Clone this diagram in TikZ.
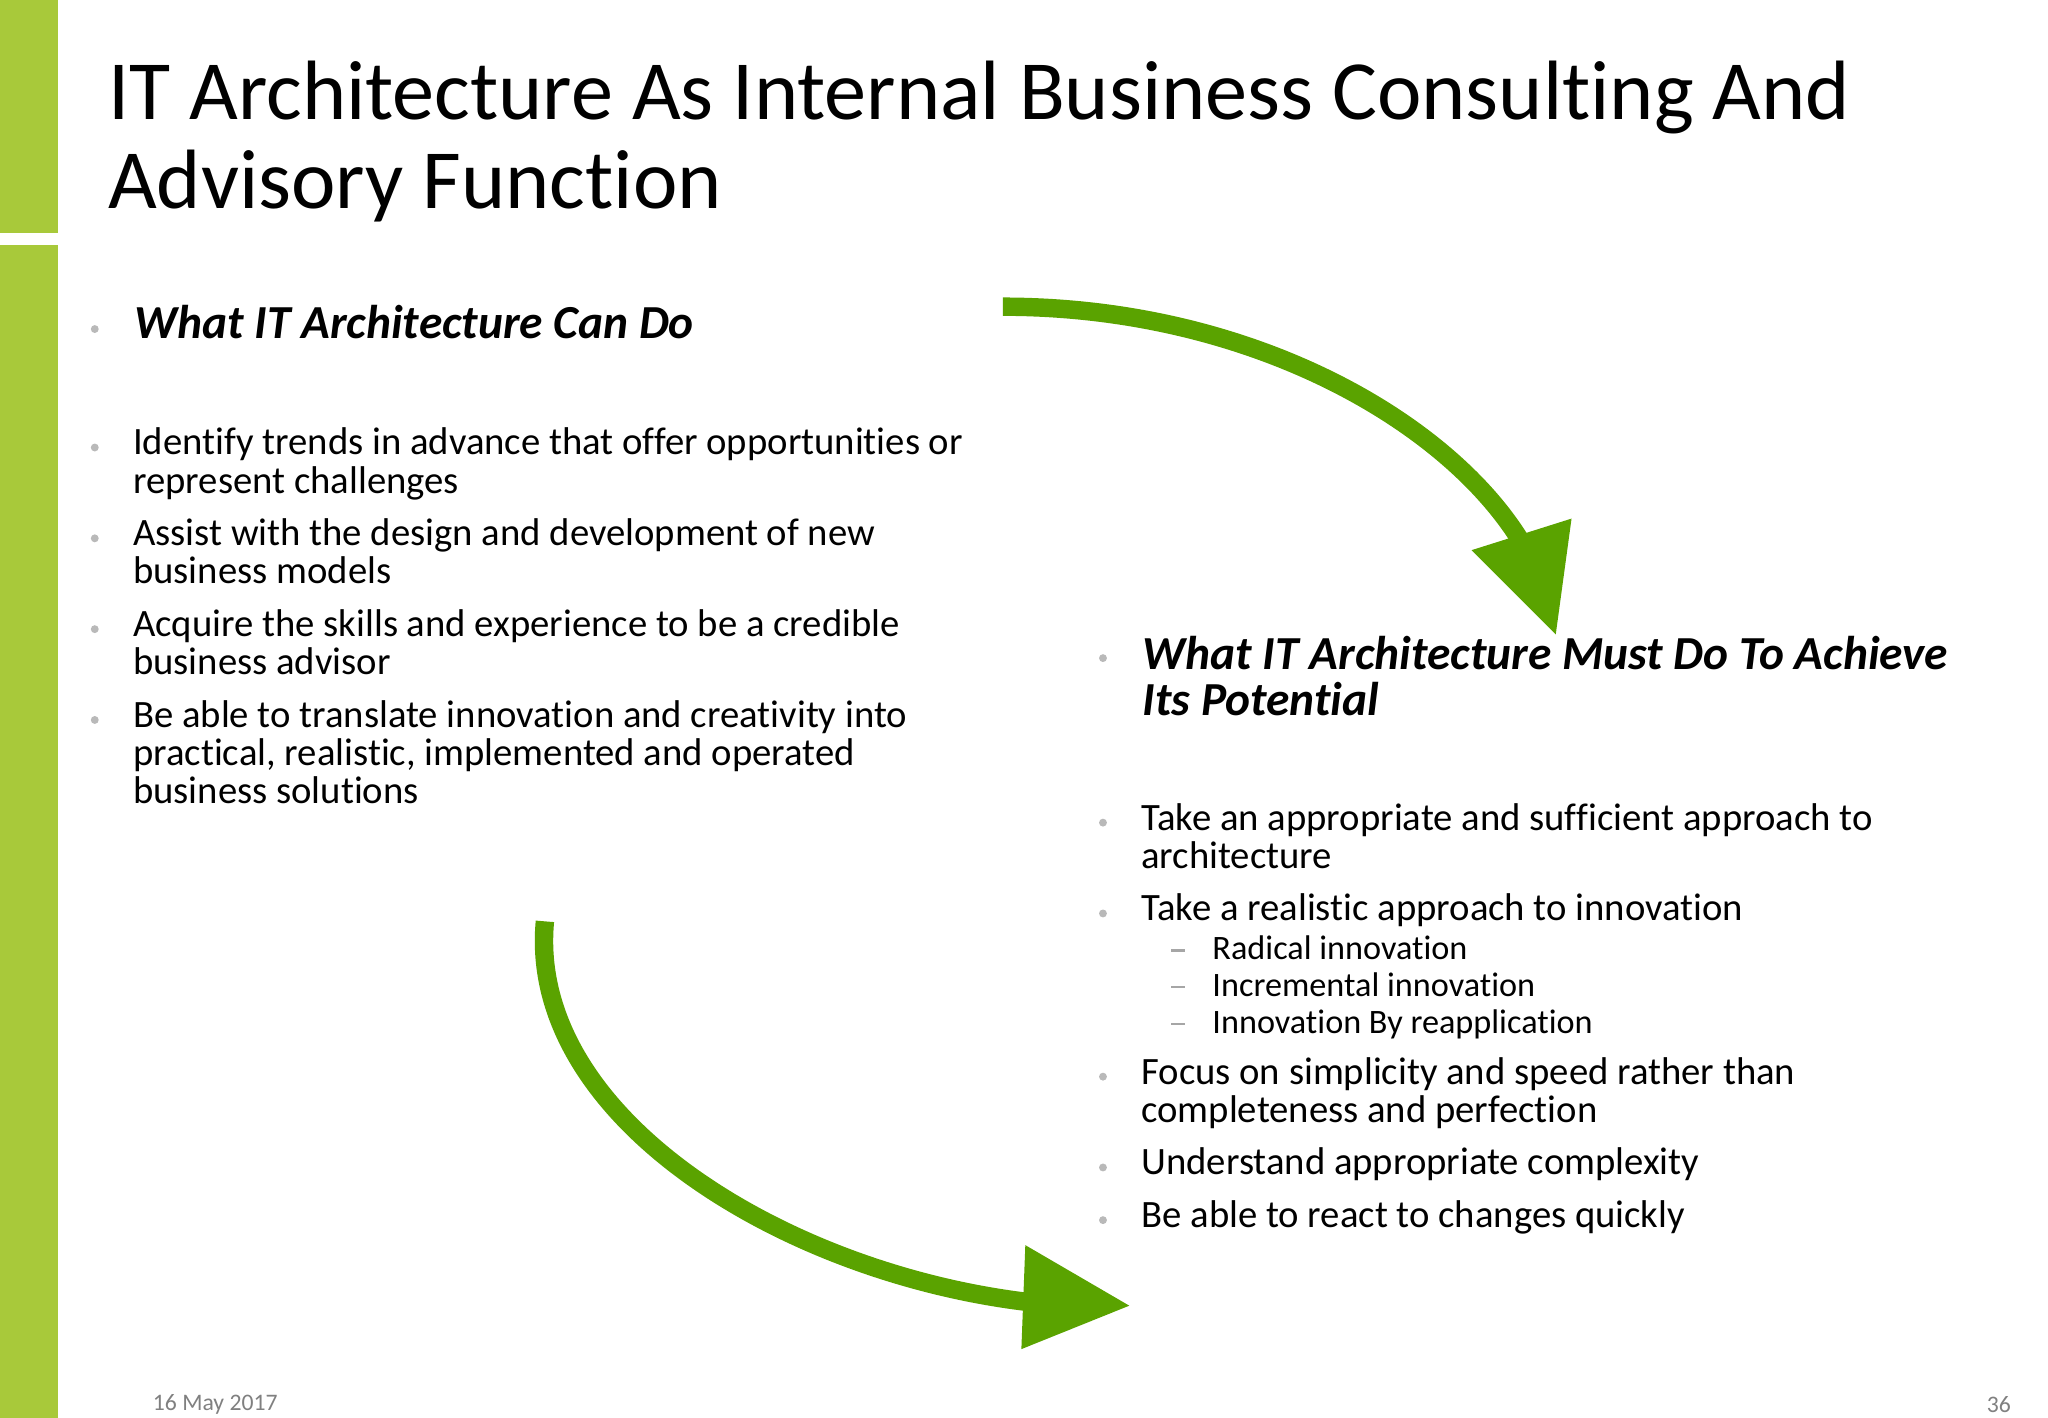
\documentclass[tikz,border=0pt]{standalone}
\usepackage{fontspec}
\setmainfont{Carlito}[Ligatures=NoCommon]
\begin{document}
\begin{tikzpicture}[x=1pt,y=-1pt,
  txt/.style={anchor=north west,align=left,inner sep=0pt,font=\fontsize{29.4}{29}\selectfont},
  sub/.style={anchor=north west,align=left,inner sep=0pt,font=\fontsize{26}{28}\selectfont},
  head/.style={anchor=north west,align=left,inner sep=0pt,font=\fontsize{36}{35}\selectfont\bfseries\itshape},
  bul/.style={fill=gray!55,circle,inner sep=0pt,minimum size=6pt},
  dsh/.style={fill=gray!70,inner sep=0pt,minimum width=11pt,minimum height=2pt},
  arr/.style={draw=arrgreen,line width=14pt},
  tip/.style={fill=arrgreen}]
\definecolor{bargreen}{HTML}{A8C93A}
\definecolor{arrgreen}{HTML}{5AA300}
\useasboundingbox (0,0) rectangle (1556,1077);
\fill[bargreen] (0,0) rectangle (44,177);
\fill[bargreen] (0,186) rectangle (44,1077);
\node[anchor=north west,inner sep=0pt,align=left,font=\fontsize{64}{68}\selectfont] (title) at (82,46) {IT Architecture As Internal Business Consulting And\\Advisory Function};
% left column
\node[bul] (b0) at (72,250) {};
\node[head] (h1) at (102,232) {What IT Architecture Can Do};
\node[bul] (b1) at (72,340) {};
\node[txt] (l1) at (101,325) {Identify trends in advance that offer opportunities or\\represent challenges};
\node[bul] (b2) at (72,409) {};
\node[txt] (l2) at (101,394) {Assist with the design and development of new\\business models};
\node[bul] (b3) at (72,478) {};
\node[txt] (l3) at (101,463) {Acquire the skills and experience to be a credible\\business advisor};
\node[bul] (b4) at (72,547) {};
\node[txt] (l4) at (101,532) {Be able to translate innovation and creativity into\\practical, realistic, implemented and operated\\business solutions};
% right column
\node[bul] (r0) at (838,500) {};
\node[head] (h2) at (868,483) {What IT Architecture Must Do To Achieve\\Its Potential};
\node[bul] (r1) at (838,625) {};
\node[txt] (m1) at (867,610) {Take an appropriate and sufficient approach to\\architecture};
\node[bul] (r2) at (838,694) {};
\node[txt] (m2) at (867,679) {Take a realistic approach to innovation};
\node[dsh] (d1) at (895,722) {};
\node[sub] (s1) at (921,711) {Radical innovation};
\node[dsh] (d2) at (895,750) {};
\node[sub] (s2) at (921,739) {Incremental innovation};
\node[dsh] (d3) at (895,778) {};
\node[sub] (s3) at (921,767) {Innovation By reapplication};
\node[bul] (r3) at (838,818) {};
\node[txt] (m3) at (867,803) {Focus on simplicity and speed rather than\\completeness and perfection};
\node[bul] (r4) at (838,887) {};
\node[txt] (m4) at (867,872) {Understand appropriate complexity};
\node[bul] (r5) at (838,927) {};
\node[txt] (m5) at (867,912) {Be able to react to changes quickly};
% arrows
\coordinate (a1s) at (762,233);
\coordinate (a1e) at (1156,412);
\draw[arr] (a1s) .. controls (950,233) and (1100,320) .. (a1e);
\fill[tip] (1118,418) -- (1194,394) -- (1182,482) -- cycle;
\coordinate (a2s) at (414,700);
\coordinate (a2e) at (788,990);
\draw[arr] (a2s) .. controls (400,850) and (600,970) .. (a2e);
\fill[tip] (779,946) -- (858,992) -- (776,1025) -- cycle;
% footer
\node[anchor=west,inner sep=0pt,text=gray,font=\fontsize{18}{20}\selectfont] (date) at (116,1067) {16 May 2017};
\node[anchor=east,inner sep=0pt,text=gray,font=\fontsize{18}{20}\selectfont] (pg) at (1528,1067) {36};
\end{tikzpicture}
\end{document}
